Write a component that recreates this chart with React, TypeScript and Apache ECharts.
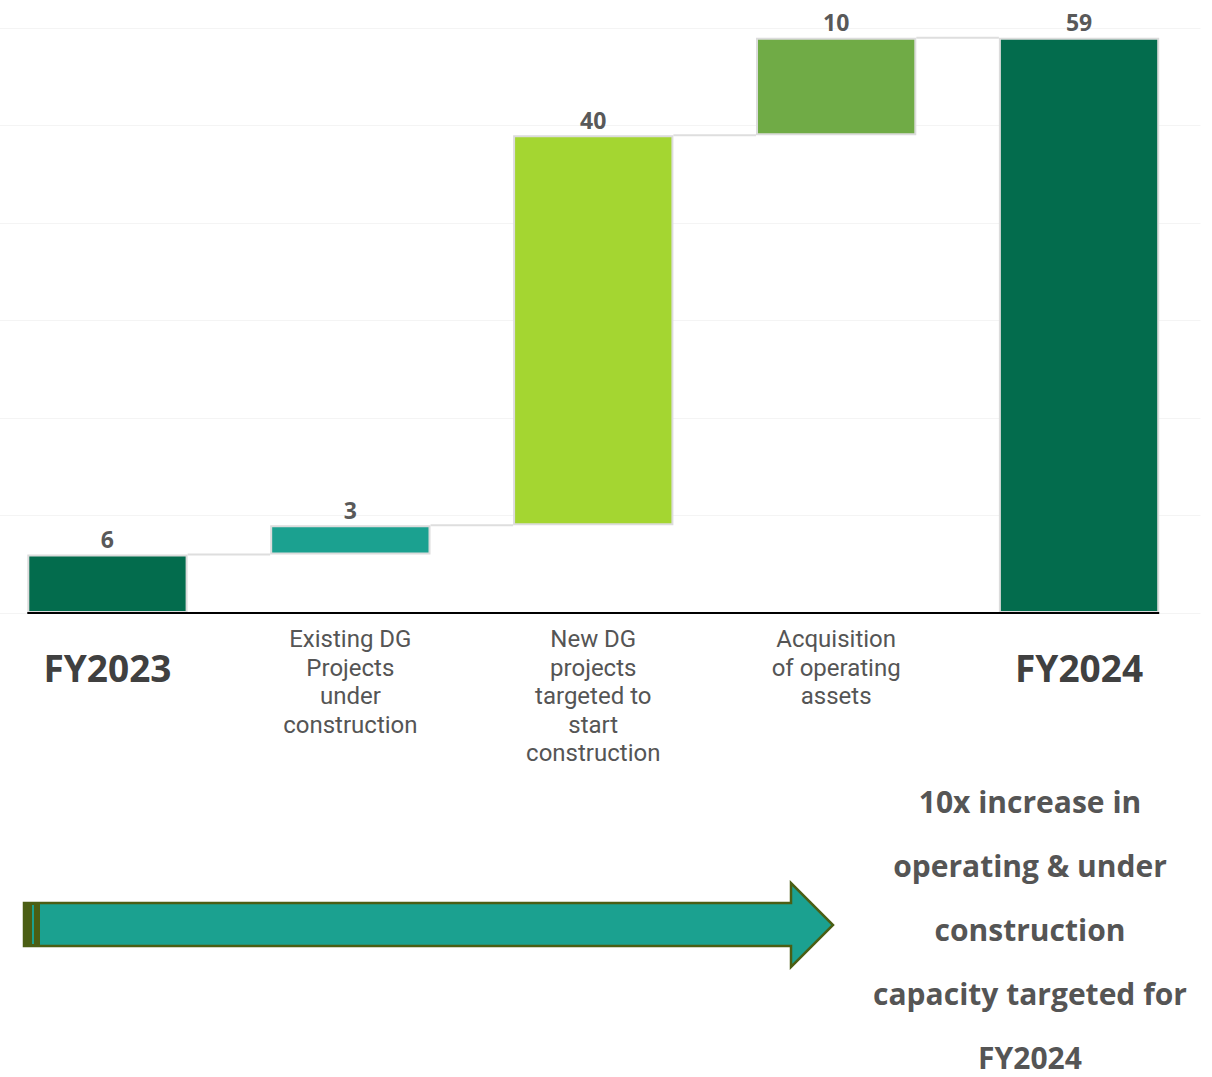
import React, { useEffect, useRef } from "react";
import * as echarts from "echarts";

const categories = [
  "FY2023",
  "Existing DG\nProjects\nunder\nconstruction",
  "New DG\nprojects\ntargeted to\nstart\nconstruction",
  "Acquisition\nof operating\nassets",
  "FY2024",
];
const values = [6, 3, 40, 10, 59];
const isTotal = [true, false, false, false, true];
const barColors = ["#036c4d", "#1ba190", "#a4d631", "#70ab46", "#036c4d"];
const yMax = 60;
const yInterval = 10;
const noteLines = [
  "10x increase in",
  "operating & under",
  "construction",
  "capacity targeted for",
  "FY2024",
];

const BAR_RATIO = 0.66;
const OFF = 14; // container shifted left by this many px

export default function App() {
  const ref = useRef<HTMLDivElement>(null);
  useEffect(() => {
    if (!ref.current) return;
    const chart = echarts.init(ref.current, null, { renderer: "svg" });

    const bases: number[] = [];
    const ends: number[] = [];
    let running = 0;
    values.forEach((v, i) => {
      if (isTotal[i]) {
        bases.push(0);
        running = v;
      } else {
        bases.push(running);
        running += v;
      }
      ends.push(running);
    });

    const connectorData = ends.slice(0, -1).map((e, i) => [i, e]);

    const arrowFill = "#1ba190";
    const arrowStroke = "#4b5e14";

    chart.setOption({
      animation: false,
      grid: { left: 0, right: 11.5, top: 28, bottom: 464 },
      xAxis: {
        type: "category",
        data: categories,
        axisLine: { show: false },
        axisTick: { show: false },
        axisLabel: {
          interval: 0,
          margin: 12,
          formatter: (val: string, idx: number) =>
            isTotal[idx]
              ? `{big|${val}}`
              : val
                  .split("\n")
                  .map((l) => `{n|${l}}`)
                  .join("\n"),
          rich: {
            big: {
              fontFamily: "Open Sans",
              fontSize: 37,
              fontWeight: "bold",
              color: "#404040",
              lineHeight: 84,
            },
            n: {
              fontFamily: "Roboto",
              fontSize: 24,
              color: "#555555",
              lineHeight: 28.5,
            },
          },
        },
      },
      yAxis: {
        type: "value",
        min: 0,
        max: yMax,
        interval: yInterval,
        axisLabel: { show: false },
        axisLine: { show: false },
        axisTick: { show: false },
        splitLine: { lineStyle: { color: "#f4f4f4", width: 1 } },
      },
      series: [
        {
          type: "bar",
          stack: "wf",
          barWidth: `${BAR_RATIO * 100}%`,
          itemStyle: { color: "transparent" },
          emphasis: { disabled: true },
          data: bases,
          silent: true,
        },
        {
          type: "bar",
          stack: "wf",
          barWidth: `${BAR_RATIO * 100}%`,
          data: values.map((v, i) => ({
            value: v,
            itemStyle: {
              color: barColors[i],
              borderColor: "#dcdcdc",
              borderWidth: 2,
            },
          })),
          label: {
            show: true,
            position: "top",
            distance: 4,
            fontFamily: "Open Sans",
            fontWeight: "bold",
            fontSize: 23,
            color: "#595959",
          },
          z: 3,
        },
        {
          type: "custom",
          data: connectorData,
          z: 1,
          silent: true,
          renderItem: (params: any, api: any) => {
            const p = api.coord([api.value(0), api.value(1)]);
            const band = api.size([1, 0])[0];
            const bw = band * BAR_RATIO;
            return {
              type: "line",
              shape: {
                x1: p[0] + bw / 2,
                y1: p[1],
                x2: p[0] + band - bw / 2,
                y2: p[1],
              },
              style: { stroke: "#dedede", lineWidth: 2 },
            };
          },
        },
        {
          type: "custom",
          data: [[0, 0]],
          z: 5,
          silent: true,
          renderItem: (params: any, api: any) => {
            const a = api.coord([0, 0]);
            const b = api.coord([categories.length - 1, 0]);
            const band = api.size([1, 0])[0];
            const bw = band * BAR_RATIO;
            return {
              type: "line",
              shape: { x1: a[0] - bw / 2, y1: a[1], x2: b[0] + bw / 2, y2: b[1] },
              style: { stroke: "#000000", lineWidth: 2 },
            };
          },
        },
      ],
      graphic: [
        {
          type: "group",
          x: OFF,
          y: 0,
          children: [
            {
              type: "polygon",
              shape: {
                points: [
                  [24, 903],
                  [791, 903],
                  [791, 883],
                  [833, 925],
                  [791, 967],
                  [791, 946],
                  [24, 946],
                ],
              },
              style: { fill: arrowFill, stroke: arrowStroke, lineWidth: 2.5 },
            },
            {
              type: "rect",
              shape: { x: 23, y: 902, width: 17, height: 45 },
              style: { fill: arrowStroke },
            },
            {
              type: "rect",
              shape: { x: 32, y: 905, width: 2, height: 39 },
              style: { fill: arrowFill },
            },
            ...noteLines.map((line, i) => ({
              type: "text",
              x: 1030,
              y: 801 + i * 64,
              style: {
                text: line,
                textAlign: "center",
                textVerticalAlign: "middle",
                fontFamily: "Open Sans",
                fontWeight: "bold",
                fontSize: 30,
                fill: "#555555",
              },
            })),
          ],
        },
      ],
    });
    return () => chart.dispose();
  }, []);
  return (
    <div
      ref={ref}
      style={{
        position: "absolute",
        left: -OFF,
        top: 0,
        width: 1212 + OFF,
        height: 1077,
      }}
    />
  );
}
